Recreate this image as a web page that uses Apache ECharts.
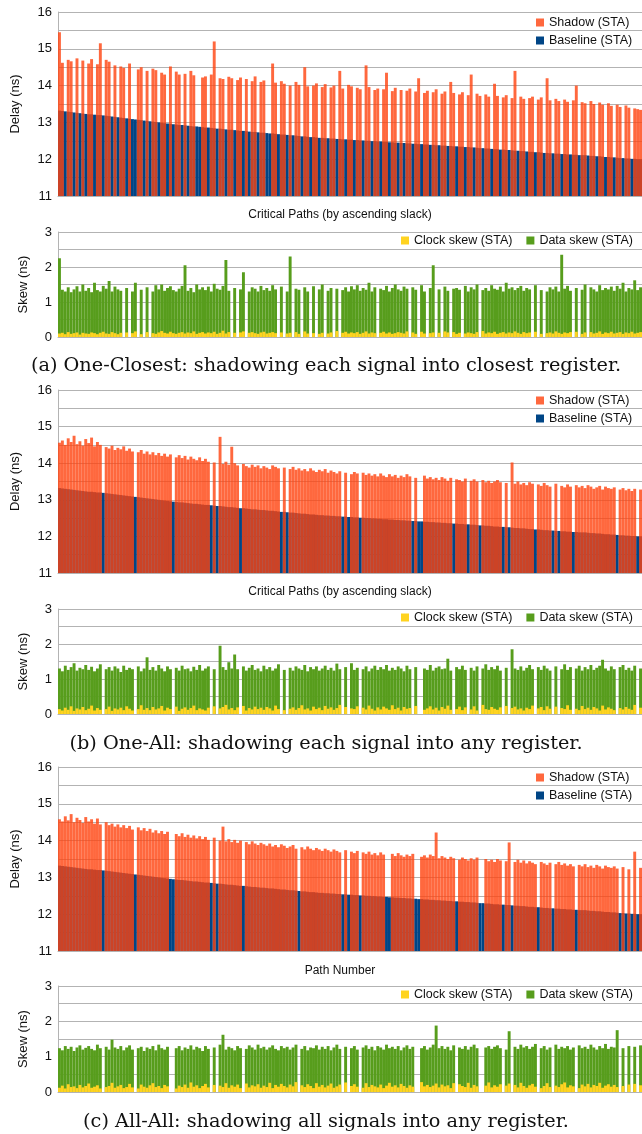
<!DOCTYPE html>
<html>
<head>
<meta charset="utf-8">
<script src="https://cdn.jsdelivr.net/npm/echarts@6.0.0/dist/echarts.min.js"></script>
<style>
html, body { margin: 0; padding: 0; background: #fff; }
#chart { width: 642px; height: 1134px; }
</style>
</head>
<body>
<div id="chart"></div>
<script>
// critical paths, sorted by ascending slack (one bar per group of paths)
const paths = Array.from({ length: 200 }, (_, i) => i + 1);

// baseline STA delay (ns) - same paths in all three experiments
const baseline = [
  13.32, 13.31, 13.30, 13.29, 13.28, 13.27, 13.26, 13.25, 13.24, 13.23,
  13.22, 13.22, 13.21, 13.20, 13.20, 13.19, 13.18, 13.17, 13.16, 13.15,
  13.14, 13.13, 13.12, 13.11, 13.10, 13.09, 13.08, 13.07, 13.06, 13.05,
  13.04, 13.03, 13.02, 13.01, 13.00, 12.99, 12.98, 12.97, 12.96, 12.95,
  12.94, 12.93, 12.93, 12.92, 12.91, 12.90, 12.89, 12.89, 12.88, 12.87,
  12.86, 12.86, 12.85, 12.84, 12.83, 12.83, 12.82, 12.81, 12.80, 12.80,
  12.79, 12.78, 12.77, 12.77, 12.76, 12.75, 12.74, 12.74, 12.73, 12.72,
  12.72, 12.71, 12.70, 12.70, 12.69, 12.68, 12.67, 12.67, 12.66, 12.65,
  12.65, 12.64, 12.63, 12.62, 12.62, 12.61, 12.60, 12.60, 12.59, 12.58,
  12.58, 12.57, 12.57, 12.56, 12.56, 12.55, 12.55, 12.54, 12.54, 12.53,
  12.53, 12.52, 12.52, 12.51, 12.51, 12.50, 12.50, 12.49, 12.49, 12.48,
  12.48, 12.47, 12.47, 12.46, 12.46, 12.45, 12.45, 12.44, 12.44, 12.43,
  12.43, 12.42, 12.42, 12.41, 12.41, 12.40, 12.40, 12.39, 12.39, 12.38,
  12.38, 12.37, 12.37, 12.36, 12.36, 12.35, 12.35, 12.34, 12.34, 12.33,
  12.33, 12.32, 12.32, 12.31, 12.30, 12.30, 12.29, 12.29, 12.28, 12.27,
  12.27, 12.26, 12.26, 12.25, 12.25, 12.24, 12.23, 12.23, 12.22, 12.22,
  12.21, 12.20, 12.20, 12.19, 12.19, 12.18, 12.17, 12.17, 12.16, 12.16,
  12.15, 12.15, 12.14, 12.14, 12.13, 12.13, 12.12, 12.12, 12.11, 12.11,
  12.11, 12.10, 12.09, 12.09, 12.08, 12.08, 12.07, 12.06, 12.06, 12.05,
  12.05, 12.04, 12.03, 12.03, 12.02, 12.02, 12.01, 12.01, 12.00, 12.00
];

// (a) One-Closest
const shadowA = [
  15.45, 14.62, null, 14.70, 14.66, null, 14.74, null, 14.68, null,
  14.60, 14.72, null, 14.58, 15.15, null, 14.70, 14.65, null, 14.55,
  null, 14.52, 14.48, null, 14.60, null, null, 14.44, 14.50, null,
  14.40, null, 14.46, 14.42, null, 14.35, 14.30, null, 14.52, null,
  14.38, 14.30, null, 14.32, null, 14.40, 14.28, null, null, 14.22,
  14.25, null, 14.30, 15.20, null, 14.20, 14.18, null, 14.24, 14.20,
  null, 14.15, 14.22, null, 14.18, null, 14.12, 14.25, null, 14.10,
  14.14, null, null, 14.60, 14.08, null, 14.12, 14.05, null, 14.00,
  null, 14.10, 14.02, null, 14.50, 13.98, null, 14.00, 14.06, null,
  13.96, 14.04, null, 13.95, 14.00, null, 14.40, 13.92, null, 14.02,
  13.98, null, 13.94, 13.90, null, 14.55, 13.96, null, 13.88, 13.92,
  null, 13.90, 14.35, null, 13.85, 13.94, null, 13.88, null, 13.86,
  13.92, null, 13.84, 14.20, null, 13.80, 13.86, null, 13.82, 13.90,
  null, 13.78, 13.84, null, 14.10, 13.80, null, 13.76, 13.82, null,
  13.74, 14.30, null, 13.78, 13.72, null, 13.76, 13.70, null, 14.05,
  13.72, null, 13.68, 13.74, null, 13.66, 14.40, null, 13.70, 13.64,
  null, 13.66, 13.70, null, 13.62, 13.68, null, 14.20, 13.60, null,
  13.64, 13.58, null, 13.62, 13.56, null, 13.60, 14.00, null, 13.55,
  13.52, null, 13.58, 13.50, null, 13.54, 13.48, null, 13.52, 13.45,
  null, 13.48, 13.42, null, 13.46, 13.40, null, 13.38, 13.36, 13.34
];
const dataSkewA = [
  2.25, 1.35, 1.30, 1.42, 1.28, 1.36, 1.45, 1.30, 1.50, 1.32,
  1.40, 1.28, 1.55, 1.34, 1.30, 1.46, 1.38, 1.60, 1.30, 1.44,
  1.36, 1.32, null, 1.40, null, 1.30, 1.55, null, 1.35, null,
  1.42, null, 1.30, 1.48, 1.36, 1.50, 1.32, 1.40, 1.45, 1.34,
  1.30, 1.38, 1.46, 2.05, 1.32, 1.40, 1.28, 1.50, 1.36, 1.42,
  1.34, 1.44, 1.30, 1.52, 1.38, 1.35, 1.46, 2.20, 1.32, null,
  1.40, null, 1.36, 1.85, null, 1.30, 1.42, 1.38, 1.30, 1.46,
  1.34, 1.40, 1.32, 1.48, 1.36, null, 1.44, null, 1.30, 2.30,
  null, 1.38, 1.35, null, 1.42, 1.30, null, 1.45, null, 1.36,
  1.50, null, 1.32, 1.40, null, 1.38, null, 1.34, 1.42, 1.30,
  1.45, 1.36, 1.48, 1.32, 1.40, 1.35, 1.55, 1.30, 1.42, null,
  1.38, 1.34, 1.46, 1.30, 1.40, 1.50, 1.36, 1.32, 1.44, 1.38,
  null, 1.42, 1.35, null, 1.48, 1.30, null, 1.40, 2.05, null,
  1.36, null, 1.44, 1.32, null, 1.38, 1.40, 1.35, null, 1.46,
  1.30, 1.42, 1.36, 1.50, null, 1.34, 1.40, 1.32, 1.48, 1.38,
  1.35, 1.44, 1.30, 1.55, 1.38, 1.42, 1.34, 1.40, 1.46, 1.32,
  1.40, 1.36, null, 1.48, null, 1.34, null, 1.30, 1.42, 1.36,
  1.44, 1.30, 2.35, 1.38, 1.46, 1.32, null, 1.40, null, 1.35,
  1.50, null, 1.42, 1.36, 1.30, 1.48, 1.34, 1.40, 1.36, 1.44,
  1.32, 1.46, 1.38, 1.55, 1.30, 1.40, 1.36, 1.62, 1.34, 1.42
];
const clockSkewA = [
  0.10, 0.12, 0.08, 0.14, 0.09, 0.11, 0.13, 0.07, 0.12, 0.10,
  0.09, 0.13, 0.11, 0.08, 0.12, 0.15, 0.10, 0.09, 0.14, 0.11,
  0.08, 0.12, 0.10, 0.13, 0.09, 0.11, 0.16, 0.10, 0.08, 0.12,
  0.14, 0.10, 0.11, 0.09, 0.13, 0.17, 0.12, 0.10, 0.15, 0.11,
  0.09, 0.12, 0.14, 0.10, 0.13, 0.11, 0.16, 0.09, 0.12, 0.14,
  0.10, 0.13, 0.11, 0.15, 0.09, 0.12, 0.18, 0.10, 0.14, 0.11,
  0.12, 0.09, 0.13, 0.16, 0.10, 0.12, 0.14, 0.11, 0.09, 0.13,
  0.15, 0.10, 0.12, 0.14, 0.11, 0.09, 0.13, 0.17, 0.10, 0.12,
  0.11, 0.14, 0.09, 0.12, 0.16, 0.10, 0.13, 0.11, 0.15, 0.09,
  0.12, 0.14, 0.10, 0.13, 0.11, 0.17, 0.09, 0.12, 0.15, 0.10,
  0.13, 0.11, 0.14, 0.09, 0.12, 0.16, 0.10, 0.13, 0.11, 0.08,
  0.12, 0.15, 0.10, 0.13, 0.09, 0.11, 0.14, 0.12, 0.10, 0.16,
  0.11, 0.13, 0.09, 0.12, 0.15, 0.10, 0.14, 0.11, 0.13, 0.09,
  0.12, 0.10, 0.16, 0.13, 0.11, 0.14, 0.09, 0.12, 0.15, 0.10,
  0.13, 0.11, 0.09, 0.14, 0.12, 0.17, 0.10, 0.13, 0.11, 0.15,
  0.09, 0.12, 0.14, 0.10, 0.13, 0.11, 0.16, 0.12, 0.09, 0.14,
  0.11, 0.13, 0.10, 0.15, 0.12, 0.09, 0.14, 0.11, 0.13, 0.10,
  0.16, 0.12, 0.09, 0.13, 0.11, 0.14, 0.10, 0.15, 0.12, 0.09,
  0.13, 0.11, 0.14, 0.10, 0.12, 0.16, 0.09, 0.13, 0.11, 0.15,
  0.10, 0.12, 0.14, 0.09, 0.13, 0.11, 0.15, 0.10, 0.12, 0.14
];

// (b) One-All
const shadowB = [
  14.56, 14.62, 14.50, 14.68, 14.58, 14.75, 14.52, 14.60, 14.48, 14.66,
  14.55, 14.70, 14.46, 14.58, 14.50, null, 14.44, 14.40, 14.48, 14.36,
  14.42, 14.38, 14.46, 14.34, 14.40, 14.32, null, 14.30, 14.36, 14.26,
  14.32, 14.24, 14.30, 14.22, 14.28, 14.20, 14.26, 14.18, 14.24, null,
  14.16, 14.22, 14.14, 14.20, 14.10, 14.18, 14.12, 14.08, 14.16, 14.06,
  14.12, 14.04, null, 14.02, null, 14.72, 13.98, 14.04, 13.96, 14.45,
  14.00, 13.94, null, 13.98, 13.92, 13.88, 13.96, 13.90, 13.94, 13.86,
  13.92, 13.88, 13.84, 13.94, 13.90, 13.86, null, 13.88, null, 13.84,
  13.90, 13.82, 13.86, 13.80, 13.84, 13.78, 13.86, 13.80, 13.76, 13.82,
  13.78, 13.84, 13.74, 13.80, 13.76, 13.72, 13.78, null, 13.74, null,
  13.70, 13.76, 13.72, null, 13.74, 13.68, 13.72, 13.66, 13.70, 13.64,
  13.72, 13.66, 13.62, 13.70, 13.64, 13.68, 13.60, 13.66, 13.62, 13.70,
  13.64, null, 13.60, null, null, 13.66, 13.58, 13.62, 13.56, 13.60,
  13.54, 13.62, 13.58, 13.52, 13.60, null, 13.56, 13.54, 13.50, 13.58,
  null, 13.52, 13.56, 13.50, null, 13.54, 13.48, 13.52, 13.46, 13.50,
  13.54, 13.48, null, 13.46, null, 14.02, 13.44, 13.50, 13.42, 13.46,
  13.40, 13.48, 13.44, null, 13.42, 13.38, 13.46, 13.40, 13.36, null,
  13.44, null, 13.38, 13.34, 13.42, 13.36, null, 13.40, 13.34, 13.38,
  13.32, 13.40, 13.36, 13.30, 13.34, 13.38, 13.28, 13.36, 13.32, 13.30,
  13.34, null, 13.28, 13.32, 13.26, 13.30, 13.24, 13.30, null, 13.28
];
const dataSkewB = [
  1.30, 1.22, 1.38, 1.26, 1.34, 1.45, 1.24, 1.32, 1.28, 1.40,
  1.26, 1.35, 1.22, 1.30, 1.42, null, 1.28, 1.34, 1.24, 1.36,
  1.30, 1.20, 1.38, 1.26, 1.32, 1.28, null, 1.36, 1.22, 1.30,
  1.62, 1.26, 1.34, 1.24, 1.40, 1.30, 1.22, 1.36, 1.28, null,
  1.32, 1.24, 1.38, 1.28, 1.30, 1.22, 1.35, 1.26, 1.40, 1.24,
  1.30, 1.36, null, 1.28, null, 1.95, 1.34, 1.26, 1.48, 1.30,
  1.70, 1.28, null, 1.36, 1.24, 1.32, 1.40, 1.26, 1.30, 1.22,
  1.38, 1.28, 1.34, 1.24, 1.30, 1.42, null, 1.26, null, 1.32,
  1.24, 1.36, 1.30, 1.26, 1.40, 1.22, 1.34, 1.28, 1.36, 1.24,
  1.30, 1.38, 1.26, 1.32, 1.24, 1.44, 1.28, null, 1.34, null,
  1.45, 1.26, 1.32, null, 1.28, 1.36, 1.22, 1.30, 1.38, 1.26,
  1.34, 1.28, 1.40, 1.24, 1.32, 1.26, 1.36, 1.30, 1.22, 1.38,
  1.28, null, 1.34, null, null, 1.30, 1.26, 1.40, 1.24, 1.32,
  1.36, 1.28, 1.30, 1.58, 1.24, null, 1.34, 1.28, 1.38, 1.26,
  null, 1.32, 1.24, 1.36, null, 1.30, 1.42, 1.26, 1.34, 1.28,
  1.38, 1.24, null, 1.32, null, 1.85, 1.30, 1.26, 1.36, 1.24,
  1.32, 1.40, 1.28, null, 1.34, 1.26, 1.38, 1.30, 1.24, null,
  1.36, null, 1.28, 1.42, 1.26, 1.34, null, 1.30, 1.38, 1.24,
  1.34, 1.28, 1.40, 1.26, 1.32, 1.38, 1.55, 1.30, 1.24, 1.36,
  1.28, null, 1.34, 1.40, 1.26, 1.32, 1.24, 1.38, null, 1.30
];
const clockSkewB = [
  0.14, 0.10, 0.18, 0.12, 0.22, 0.09, 0.16, 0.13, 0.20, 0.11,
  0.15, 0.24, 0.10, 0.17, 0.12, 0.19, 0.14, 0.21, 0.09, 0.16,
  0.13, 0.18, 0.11, 0.22, 0.15, 0.10, 0.19, 0.14, 0.25, 0.12,
  0.17, 0.11, 0.20, 0.13, 0.16, 0.23, 0.10, 0.18, 0.14, 0.12,
  0.21, 0.09, 0.15, 0.19, 0.12, 0.17, 0.24, 0.11, 0.16, 0.13,
  0.10, 0.18, 0.14, 0.22, 0.12, 0.16, 0.20, 0.26, 0.13, 0.17,
  0.11, 0.19, 0.15, 0.23, 0.10, 0.17, 0.13, 0.21, 0.14, 0.18,
  0.12, 0.20, 0.16, 0.10, 0.24, 0.14, 0.18, 0.11, 0.22, 0.15,
  0.19, 0.12, 0.17, 0.25, 0.13, 0.16, 0.10, 0.21, 0.14, 0.18,
  0.11, 0.23, 0.15, 0.19, 0.12, 0.17, 0.26, 0.13, 0.20, 0.10,
  0.16, 0.14, 0.22, 0.11, 0.18, 0.13, 0.24, 0.15, 0.10, 0.19,
  0.13, 0.21, 0.16, 0.12, 0.25, 0.14, 0.18, 0.10, 0.20, 0.15,
  0.17, 0.11, 0.23, 0.14, 0.19, 0.12, 0.16, 0.22, 0.13, 0.18,
  0.10, 0.20, 0.15, 0.24, 0.12, 0.17, 0.14, 0.21, 0.11, 0.19,
  0.16, 0.13, 0.22, 0.10, 0.18, 0.26, 0.14, 0.12, 0.20, 0.15,
  0.12, 0.19, 0.14, 0.23, 0.11, 0.17, 0.21, 0.13, 0.16, 0.10,
  0.18, 0.14, 0.24, 0.12, 0.16, 0.20, 0.11, 0.22, 0.15, 0.13,
  0.21, 0.10, 0.17, 0.14, 0.25, 0.12, 0.19, 0.15, 0.11, 0.23,
  0.14, 0.18, 0.12, 0.20, 0.16, 0.10, 0.24, 0.13, 0.19, 0.15,
  0.11, 0.22, 0.17, 0.13, 0.20, 0.15, 0.12, 0.26, 0.14, 0.18
];

// (c) All-All
const shadowC = [
  14.58, 14.52, 14.66, 14.55, 14.72, 14.50, 14.62, 14.56, 14.48, 14.64,
  14.52, 14.58, 14.46, 14.60, 14.44, null, 14.50, 14.42, 14.46, 14.38,
  14.44, 14.36, 14.42, 14.34, 14.40, 14.30, null, 14.36, 14.28, 14.34,
  14.26, 14.32, 14.22, 14.28, 14.20, 14.26, 14.18, 14.24, null, null,
  14.18, 14.12, 14.20, 14.10, 14.16, 14.08, 14.14, 14.06, 14.12, 14.04,
  14.10, 14.02, null, 14.08, null, 14.00, 14.38, 13.98, 14.04, 13.96,
  14.02, 13.94, 14.00, null, 13.96, 13.90, 13.98, 13.92, 13.88, 13.94,
  13.90, 13.86, 13.92, 13.84, 13.88, 13.82, 13.90, 13.86, 13.80, 13.84,
  13.88, 13.78, null, 13.82, 13.76, 13.84, 13.78, 13.74, 13.80, 13.76,
  13.72, 13.78, 13.74, 13.70, 13.76, 13.72, 13.68, null, 13.74, null,
  13.70, 13.66, 13.72, null, 13.68, 13.64, 13.70, 13.62, 13.66, 13.60,
  13.68, 13.62, null, null, 13.64, 13.58, 13.66, 13.60, 13.56, 13.62,
  13.58, 13.64, null, null, 13.56, 13.60, 13.54, 13.62, 13.58, 14.22,
  13.52, 13.58, 13.54, 13.50, 13.56, 13.52, null, 13.48, 13.54, 13.50,
  13.46, 13.52, 13.48, 13.54, null, null, 13.50, 13.44, 13.48, 13.42,
  13.50, 13.46, null, 13.44, 13.95, null, 13.42, 13.48, 13.40, 13.46,
  13.38, 13.44, 13.40, 13.36, null, 13.42, 13.38, 13.34, 13.40, null,
  13.36, 13.42, 13.34, 13.38, 13.32, 13.36, 13.30, null, 13.34, 13.30,
  13.36, 13.28, 13.32, 13.26, 13.34, 13.30, 13.24, 13.32, 13.28, 13.26,
  13.30, 13.24, null, 13.28, null, 13.22, null, 13.70, null, 13.26
];
const dataSkewC = [
  1.24, 1.18, 1.30, 1.22, 1.28, 1.16, 1.26, 1.32, 1.20, 1.25,
  1.30, 1.22, 1.18, 1.34, 1.24, null, 1.28, 1.20, 1.48, 1.26,
  1.22, 1.30, 1.18, 1.26, 1.32, 1.20, null, 1.24, 1.28, 1.16,
  1.26, 1.22, 1.30, 1.18, 1.34, 1.24, 1.20, 1.28, null, null,
  1.24, 1.30, 1.18, 1.26, 1.22, 1.32, 1.20, 1.28, 1.24, 1.16,
  1.30, 1.22, null, 1.26, null, 1.34, 1.62, 1.20, 1.28, 1.24,
  1.18, 1.30, 1.24, null, 1.22, 1.32, 1.26, 1.20, 1.34, 1.24,
  1.28, 1.20, 1.26, 1.32, 1.22, 1.18, 1.30, 1.24, 1.28, 1.20,
  1.26, 1.34, null, 1.22, 1.30, 1.18, 1.26, 1.24, 1.32, 1.20,
  1.28, 1.22, 1.30, 1.18, 1.26, 1.34, 1.22, null, 1.28, null,
  1.24, 1.30, 1.20, null, 1.26, 1.32, 1.22, 1.28, 1.18, 1.30,
  1.26, 1.20, 1.34, 1.24, 1.28, 1.22, 1.30, 1.18, 1.26, 1.32,
  1.22, 1.28, null, null, 1.24, 1.30, 1.20, 1.26, 1.34, 1.88,
  1.24, 1.30, 1.22, 1.28, 1.18, 1.32, null, 1.26, 1.22, 1.30,
  1.20, 1.28, 1.34, 1.24, null, null, 1.26, 1.30, 1.22, 1.28,
  1.32, 1.24, null, 1.20, 1.72, null, 1.28, 1.22, 1.34, 1.26,
  1.30, 1.22, 1.28, 1.36, null, 1.24, 1.30, 1.20, 1.26, null,
  1.34, 1.22, 1.28, 1.24, 1.30, 1.20, 1.26, null, 1.32, 1.24,
  1.28, 1.22, 1.34, 1.26, 1.20, 1.30, 1.24, 1.36, 1.22, 1.28,
  1.26, 1.75, null, 1.24, null, 1.30, null, 1.28, null, 1.32
];
const clockSkewC = [
  0.12, 0.18, 0.10, 0.22, 0.14, 0.16, 0.11, 0.20, 0.13, 0.17,
  0.24, 0.12, 0.15, 0.19, 0.10, 0.21, 0.14, 0.17, 0.26, 0.12,
  0.16, 0.20, 0.11, 0.14, 0.23, 0.13, 0.18, 0.10, 0.21, 0.15,
  0.12, 0.19, 0.25, 0.14, 0.17, 0.11, 0.20, 0.16, 0.13, 0.22,
  0.10, 0.18, 0.14, 0.21, 0.12, 0.27, 0.15, 0.19, 0.11, 0.17,
  0.23, 0.13, 0.16, 0.20, 0.10, 0.18, 0.14, 0.25, 0.12, 0.19,
  0.15, 0.21, 0.11, 0.17, 0.24, 0.13, 0.19, 0.16, 0.22, 0.12,
  0.18, 0.14, 0.26, 0.11, 0.20, 0.15, 0.23, 0.17, 0.13, 0.21,
  0.16, 0.28, 0.12, 0.19, 0.14, 0.22, 0.17, 0.11, 0.25, 0.15,
  0.20, 0.13, 0.18, 0.24, 0.12, 0.16, 0.21, 0.14, 0.27, 0.11,
  0.17, 0.22, 0.15, 0.19, 0.12, 0.25, 0.14, 0.20, 0.16, 0.13,
  0.21, 0.11, 0.18, 0.26, 0.15, 0.19, 0.13, 0.23, 0.17, 0.12,
  0.19, 0.15, 0.22, 0.12, 0.28, 0.16, 0.20, 0.14, 0.18, 0.24,
  0.13, 0.21, 0.16, 0.19, 0.11, 0.25, 0.15, 0.22, 0.17, 0.14,
  0.26, 0.12, 0.20, 0.16, 0.23, 0.14, 0.18, 0.27, 0.13, 0.19,
  0.15, 0.22, 0.11, 0.18, 0.24, 0.16, 0.20, 0.13, 0.26, 0.17,
  0.12, 0.19, 0.23, 0.15, 0.21, 0.11, 0.17, 0.25, 0.14, 0.20,
  0.18, 0.14, 0.22, 0.27, 0.13, 0.19, 0.16, 0.24, 0.11, 0.21,
  0.16, 0.23, 0.13, 0.20, 0.17, 0.26, 0.12, 0.18, 0.22, 0.15,
  0.20, 0.14, 0.25, 0.17, 0.12, 0.21, 0.16, 0.23, 0.13, 0.19
];

const delayTicks = [11, 12, 13, 14, 15, 16];
const skewTicks = [0, 1, 2, 3];

const FONT = 'Liberation Sans';
const GRIDLINE = '#b3b3b3';

const panels = [
  { delayTop: 12, delayH: 184, skewTop: 232, skewH: 105,
    shadow: shadowA, data: dataSkewA, clock: clockSkewA,
    xName: 'Critical Paths (by ascending slack)', xNameY: 215,
    caption: '(a) One-Closest: shadowing each signal into closest register.', captionY: 366 },
  { delayTop: 390, delayH: 183, skewTop: 609, skewH: 105,
    shadow: shadowB, data: dataSkewB, clock: clockSkewB,
    xName: 'Critical Paths (by ascending slack)', xNameY: 592,
    caption: '(b) One-All: shadowing each signal into any register.', captionY: 744 },
  { delayTop: 767, delayH: 184, skewTop: 986, skewH: 106,
    shadow: shadowC, data: dataSkewC, clock: clockSkewC,
    xName: 'Path Number', xNameY: 971,
    caption: '(c) All-All: shadowing all signals into any register.', captionY: 1122 }
];

const grid = [], xAxis = [], yAxis = [], series = [], legend = [], graphic = [];

function addAxes(top, height, min, max, ticks, name, nameGap) {
  const idx = grid.length;
  grid.push({ left: 58, top: top, width: 600, height: height });
  xAxis.push({
    type: 'category', gridIndex: idx, data: paths,
    axisLine: { lineStyle: { color: GRIDLINE } },
    axisTick: { show: false }, axisLabel: { show: false }
  });
  yAxis.push({
    type: 'value', gridIndex: idx, min: min, max: max, interval: 0.5,
    name: name, nameLocation: 'middle', nameGap: nameGap, nameRotate: 90,
    nameTextStyle: { fontFamily: FONT, fontSize: 13, color: '#111' },
    axisLine: { show: true, lineStyle: { color: GRIDLINE } },
    axisTick: { show: false },
    axisLabel: {
      fontFamily: FONT, fontSize: 13, color: '#111', margin: 6,
      formatter: v => ticks.includes(v) ? String(v) : ''
    },
    splitLine: { lineStyle: { color: GRIDLINE } }
  });
  return idx;
}

panels.forEach(p => {
  const d = addAxes(p.delayTop, p.delayH, 11, 16, delayTicks, 'Delay (ns)', 36);
  series.push({
    name: 'Baseline (STA)', type: 'bar', xAxisIndex: d, yAxisIndex: d,
    data: baseline, barCategoryGap: '0%', barGap: '-100%',
    itemStyle: { color: '#004586' }
  });
  series.push({
    name: 'Shadow (STA)', type: 'bar', xAxisIndex: d, yAxisIndex: d,
    data: p.shadow, barCategoryGap: '0%', barGap: '-100%',
    itemStyle: { color: 'rgba(255,66,14,0.8)' }
  });
  legend.push({
    orient: 'vertical', left: 536, top: p.delayTop + 4, padding: 0,
    itemWidth: 8, itemHeight: 8, itemGap: 5, icon: 'rect',
    data: ['Shadow (STA)', 'Baseline (STA)'],
    textStyle: { fontFamily: FONT, fontSize: 12.5, color: '#111' }
  });

  const s = addAxes(p.skewTop, p.skewH, 0, 3, skewTicks, 'Skew (ns)', 28);
  series.push({
    name: 'Data skew (STA)', type: 'bar', xAxisIndex: s, yAxisIndex: s,
    data: p.data, barCategoryGap: '0%', barGap: '-100%',
    itemStyle: { color: '#579d1c' }
  });
  series.push({
    name: 'Clock skew (STA)', type: 'bar', xAxisIndex: s, yAxisIndex: s,
    data: p.clock.map((v, i) => p.data[i] == null ? null : v),
    barCategoryGap: '0%', barGap: '-100%',
    itemStyle: { color: '#ffd320' }
  });
  legend.push({
    orient: 'horizontal', left: 401, top: p.skewTop + 2, padding: 0,
    itemWidth: 8, itemHeight: 8, itemGap: 14, icon: 'rect',
    data: ['Clock skew (STA)', 'Data skew (STA)'],
    textStyle: { fontFamily: FONT, fontSize: 12.5, color: '#111' }
  });

  graphic.push({
    type: 'text', x: 340, y: p.xNameY,
    style: { text: p.xName, font: '12px "Liberation Sans"', fill: '#111',
      textAlign: 'center', textVerticalAlign: 'middle' }
  });
  graphic.push({
    type: 'text', x: 326, y: p.captionY,
    style: { text: p.caption, font: '19.3px "DejaVu Serif"', fill: '#111',
      textAlign: 'center', textVerticalAlign: 'middle' }
  });
});

const chart = echarts.init(document.getElementById('chart'));
chart.setOption({
  animation: false,
  backgroundColor: '#fff',
  grid, xAxis, yAxis, series, legend, graphic
});
</script>
</body>
</html>
